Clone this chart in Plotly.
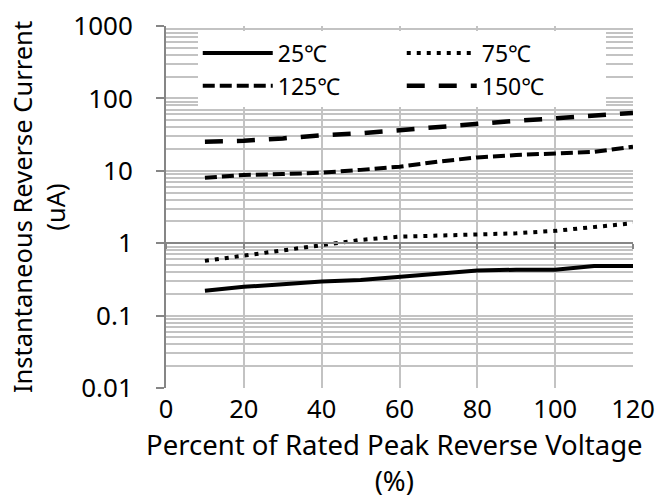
import plotly.graph_objects as go

pct = [10, 20, 30, 40, 50, 60, 70, 80, 90, 100, 110, 120]
i_25 = [0.22, 0.25, 0.27, 0.295, 0.31, 0.34, 0.385, 0.42, 0.43, 0.43, 0.486, 0.486]
i_75 = [0.57, 0.67, 0.81, 0.95, 1.11, 1.23, 1.27, 1.30, 1.37, 1.48, 1.69, 1.89]
i_125 = [8.0, 8.75, 9.0, 9.4, 10.3, 11.4, 13.4, 15.3, 16.5, 17.4, 18.3, 21.5]
i_150 = [25.2, 26, 28, 31, 33, 36.5, 41.5, 45, 49, 53, 57.5, 63]

names = ["25℃", "75℃", "125℃", "150℃"]
x_ticks = [0, 20, 40, 60, 80, 100, 120]
y_ticks = [0.01, 0.1, 1, 10, 100, 1000]
y_ticklabels = ["0.01", "0.1", "1", "10", "100", "1000"]
x_title = "Percent of Rated Peak Reverse Voltage<br>(%)"
y_title = "Instantaneous Reverse Current<br>(uA)"

FONT = "Noto Sans, Noto Sans CJK JP, sans-serif"
GRID = "#c3c3c3"

fig = go.Figure()
styles = [
    dict(dash="solid", width=4),
    dict(dash="4px,6px", width=4),
    dict(dash="12px,5px", width=4),
    dict(dash="18px,14px", width=4.5),
]
for nm, ys, st in zip(names, [i_25, i_75, i_125, i_150], styles):
    fig.add_trace(go.Scatter(x=pct, y=ys, mode="lines", name=nm,
                             line=dict(color="black", **st)))

# helper trace for the axis crossing at 1 (Excel style)
fig.add_trace(go.Scatter(x=[0], y=[1], xaxis="x2", mode="markers",
                         marker=dict(opacity=0), showlegend=False, hoverinfo="skip"))

# x-axis title (two lines)
fig.add_annotation(text=x_title, xref="paper", yref="paper", x=0.49, y=-0.205,
                   xanchor="center", yanchor="middle", showarrow=False,
                   font=dict(size=27.5, family=FONT, color="black"))

fig.update_layout(
    width=659, height=502,
    margin=dict(l=166, r=26, t=26, b=114, autoexpand=False),
    paper_bgcolor="white", plot_bgcolor="white",
    font=dict(family=FONT, size=26, color="black"),
    showlegend=True,
    legend=dict(
        orientation="h", x=0.068, y=0.985, xanchor="left", yanchor="top",
        bgcolor="white", borderwidth=0, font=dict(size=23),
        entrywidth=119, itemwidth=70,
    ),
    xaxis=dict(
        range=[0, 120], tickvals=x_ticks, ticktext=[str(v) for v in x_ticks],
        showgrid=True, gridcolor=GRID, gridwidth=1.5, automargin=False,
        showline=False, zeroline=False, ticks="",
        tickfont=dict(size=25.5), ticklabelstandoff=3,
    ),
    xaxis2=dict(
        range=[0, 120], overlaying="x", anchor="free", position=0.4,
        tickvals=x_ticks, showticklabels=False, showgrid=False, zeroline=False,
        showline=True, linecolor="#868686", linewidth=2, automargin=False,
        ticks="outside", ticklen=5, tickcolor="#868686", tickwidth=1.5,
    ),
    yaxis=dict(
        type="log", range=[-2, 3], tickvals=y_ticks, ticktext=y_ticklabels,
        showgrid=True, gridcolor=GRID, gridwidth=1.5, automargin=False,
        minor=dict(dtick="D1", showgrid=True, gridcolor=GRID, gridwidth=1.5, ticks=""),
        showline=True, linecolor="#868686", linewidth=2,
        ticks="outside", ticklen=8, tickcolor="#868686", tickwidth=2,
        zeroline=False, tickfont=dict(size=26), ticklabelstandoff=18,
        title=dict(text=y_title, standoff=0, font=dict(size=25.5)),
    ),
)

fig.write_html("out.html")
